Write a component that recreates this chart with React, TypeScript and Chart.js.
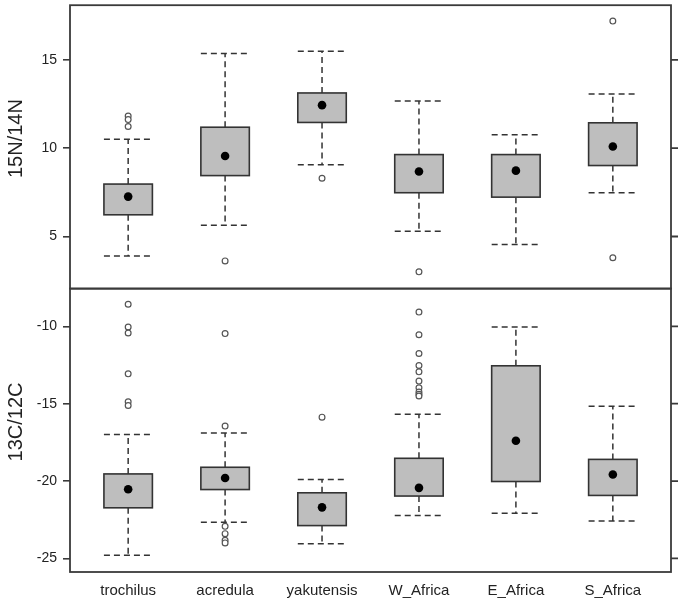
import React, { useEffect, useRef } from 'react';
import { Chart, registerables } from 'chart.js';
Chart.register(...registerables);

const categories = ['trochilus', 'acredula', 'yakutensis', 'W_Africa', 'E_Africa', 'S_Africa'];

// 15N/14N panel
const n15Low = [3.9, 5.64, 9.07, 5.3, 4.55, 7.48];
const n15Q1 = [6.23, 8.45, 11.46, 7.48, 7.23, 9.02];
const n15Median = [7.26, 9.56, 12.44, 8.68, 8.73, 10.1];
const n15Q3 = [7.97, 11.19, 13.13, 9.64, 9.64, 11.44];
const n15High = [10.51, 15.36, 15.49, 12.67, 10.76, 13.07];
const n15Outliers = [[11.82, 11.62, 11.23], [3.62], [8.3], [3.0], [], [17.2, 3.8]];
const n15Ticks = [5, 10, 15];

// 13C/12C panel
const c13Low = [-24.79, -22.67, -24.06, -22.22, -22.09, -22.58];
const c13Q1 = [-21.73, -20.55, -22.88, -20.97, -20.03, -20.93];
const c13Median = [-20.53, -19.8, -21.7, -20.44, -17.4, -19.58];
const c13Q3 = [-19.54, -19.11, -20.76, -18.53, -12.55, -18.6];
const c13High = [-16.99, -16.9, -19.9, -15.68, -10.04, -15.17];
const c13Outliers = [
  [-8.57, -10.04, -10.43, -13.07, -14.87, -15.12],
  [-10.47, -16.45, -22.93, -23.4, -23.83, -24.0],
  [-15.87],
  [-9.08, -10.54, -11.76, -12.53, -12.94, -13.54, -13.97, -14.24, -14.39, -14.5],
  [],
  [],
];
const c13Ticks = [-10, -15, -20, -25];

const FONT = "'Liberation Sans', Arial, sans-serif";

export default function App() {
  const ref = useRef<HTMLCanvasElement>(null);
  useEffect(() => {
    document.body.style.margin = '0';
    const panels = [
      { id: 'yTop', low: n15Low, q1: n15Q1, q3: n15Q3, high: n15High, ticks: n15Ticks },
      { id: 'yBot', low: c13Low, q1: c13Q1, q3: c13Q3, high: c13High, ticks: c13Ticks },
    ];
    const half = 0.25;
    const boxPlugin = {
      id: 'boxes',
      beforeDatasetsDraw(chart: any) {
        const ctx = chart.ctx;
        const xs = chart.scales.x;
        panels.forEach((p) => {
          const ys = chart.scales[p.id];
          categories.forEach((_, i) => {
            const xc = xs.getPixelForValue(i + 1);
            const xl = xs.getPixelForValue(i + 1 - half);
            const xr = xs.getPixelForValue(i + 1 + half);
            const yLow = ys.getPixelForValue(p.low[i]);
            const yQ1 = ys.getPixelForValue(p.q1[i]);
            const yQ3 = ys.getPixelForValue(p.q3[i]);
            const yHigh = ys.getPixelForValue(p.high[i]);
            ctx.save();
            ctx.strokeStyle = '#333';
            ctx.lineWidth = 1.5;
            ctx.setLineDash([6, 4]);
            ctx.beginPath();
            ctx.moveTo(xc, yQ3); ctx.lineTo(xc, yHigh);
            ctx.moveTo(xc, yQ1); ctx.lineTo(xc, yLow);
            ctx.moveTo(xl, yHigh); ctx.lineTo(xr, yHigh);
            ctx.moveTo(xl, yLow); ctx.lineTo(xr, yLow);
            ctx.stroke();
            ctx.setLineDash([]);
            ctx.fillStyle = '#bebebe';
            ctx.fillRect(xl, yQ3, xr - xl, yQ1 - yQ3);
            ctx.lineWidth = 1.6;
            ctx.strokeRect(xl, yQ3, xr - xl, yQ1 - yQ3);
            ctx.restore();
          });
        });
      },
      afterDraw(chart: any) {
        const ctx = chart.ctx;
        const area = chart.chartArea;
        ctx.save();
        ctx.strokeStyle = '#3a3a3a';
        ctx.lineWidth = 1.8;
        panels.forEach((p) => {
          const ys = chart.scales[p.id];
          ctx.strokeRect(area.left, ys.top, area.right - area.left, ys.bottom - ys.top);
          ctx.beginPath();
          p.ticks.forEach((t) => {
            const y = ys.getPixelForValue(t);
            ctx.moveTo(area.right, y);
            ctx.lineTo(area.right + 7, y);
          });
          ctx.stroke();
        });
        ctx.restore();
      },
    };

    const medianDs = (id: string, med: number[]) => ({
      type: 'scatter' as const,
      yAxisID: id,
      data: med.map((v, i) => ({ x: i + 1, y: v })),
      pointRadius: 4.3,
      pointBackgroundColor: '#000',
      pointBorderColor: '#000',
      pointBorderWidth: 0,
    });
    const outDs = (id: string, outs: number[][]) => ({
      type: 'scatter' as const,
      yAxisID: id,
      data: outs.flatMap((arr, i) => arr.map((v) => ({ x: i + 1, y: v }))),
      pointRadius: 2.9,
      pointBackgroundColor: '#fff',
      pointBorderColor: '#555',
      pointBorderWidth: 1.2,
    });

    const yScale = (ticks: number[], min: number, max: number, title: string) => ({
      type: 'linear' as const,
      position: 'left' as const,
      stack: 'panels',
      stackWeight: 1,
      min,
      max,
      afterBuildTicks: (s: any) => { s.ticks = ticks.map((v) => ({ value: v })); },
      afterFit: (s: any) => { s.width = 70; s.paddingTop = 0; s.paddingBottom = 0; },
      title: { display: true, text: '\u00a0\u00a0\u00a0' + title, color: '#222', font: { family: FONT, size: 20 }, padding: { top: 4, bottom: 0 } },
      ticks: { color: '#222', font: { family: FONT, size: 14 }, padding: 6 },
      grid: { drawOnChartArea: false, drawTicks: true, tickLength: 7, color: '#3a3a3a', lineWidth: 1.6 },
      border: { display: false },
    });

    const chart = new Chart(ref.current!, {
      type: 'scatter',
      data: {
        datasets: [
          medianDs('yTop', n15Median),
          outDs('yTop', n15Outliers),
          medianDs('yBot', c13Median),
          outDs('yBot', c13Outliers),
        ],
      },
      options: {
        animation: false,
        responsive: false,
        layout: { padding: { top: 3, right: 14, left: 0, bottom: 0 } },
        plugins: { legend: { display: false }, tooltip: { enabled: false } },
        scales: {
          x: {
            type: 'linear',
            min: 0.4,
            max: 6.6,
            afterBuildTicks: (s: any) => { s.ticks = categories.map((_, i) => ({ value: i + 1 })); },
            afterFit: (s: any) => { s.height = 30; s.paddingLeft = 0; s.paddingRight = 0; },
            ticks: {
              autoSkip: false,
              maxRotation: 0,
              color: '#222',
              font: { family: FONT, size: 15 },
              padding: 10,
              callback: (v: any) => categories[Math.round(Number(v)) - 1] ?? '',
            },
            grid: { display: false, drawTicks: false },
            border: { display: false },
          },
          yBot: yScale(c13Ticks, -25.88, -7.56, '13C/12C'),
          yTop: yScale(n15Ticks, 2.05, 18.1, '15N/14N'),
        },
      },
      plugins: [boxPlugin],
    });
    return () => chart.destroy();
  }, []);
  return (
    <div style={{ position: 'absolute', left: 0, top: 0, width: 685, height: 602, background: '#fff' }}>
      <canvas ref={ref} width={685} height={602} style={{ width: 685, height: 602 }} />
    </div>
  );
}
